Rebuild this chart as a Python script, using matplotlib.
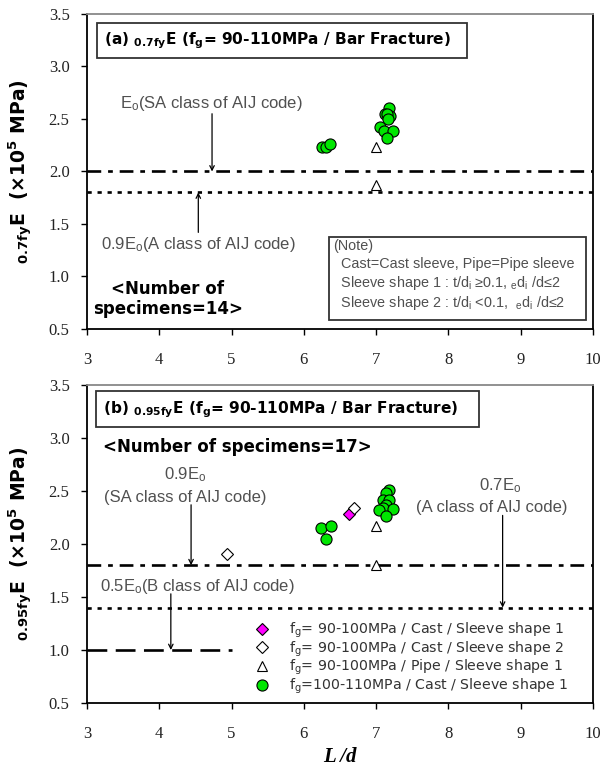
import matplotlib
matplotlib.use("Agg")
import matplotlib.pyplot as plt
from matplotlib.patches import Rectangle

plt.rcParams['mathtext.default'] = 'regular'
plt.rcParams['font.family'] = ['Liberation Sans', 'DejaVu Sans']

# ---------------- data ----------------
x_ticks = [3, 4, 5, 6, 7, 8, 9, 10]
y_ticks = [0.5, 1.0, 1.5, 2.0, 2.5, 3.0, 3.5]

# panel (a)
a_circle_x = [6.25, 6.31, 6.36, 7.18, 7.12, 7.19, 7.15, 7.17, 7.05, 7.11, 7.23, 7.15]
a_circle_y = [2.23, 2.23, 2.26, 2.60, 2.55, 2.53, 2.545, 2.50, 2.42, 2.39, 2.39, 2.32]
a_tri_x = [7.0, 7.0]
a_tri_y = [2.23, 1.87]
a_line_E0 = 2.0
a_line_09E0 = 1.8

# panel (b)
b_mag_x = [6.63]
b_mag_y = [2.28]
b_wdia_x = [4.94, 6.70]
b_wdia_y = [1.91, 2.34]
b_tri_x = [7.0, 7.0]
b_tri_y = [2.17, 1.80]
b_circle_x = [6.24, 6.37, 6.30, 7.18, 7.14, 7.09, 7.18, 7.14, 7.09, 7.04, 7.23, 7.14]
b_circle_y = [2.15, 2.17, 2.05, 2.51, 2.48, 2.42, 2.415, 2.37, 2.34, 2.32, 2.33, 2.26]
b_line_09E0 = 1.8
b_line_07E0 = 1.4
b_line_05E0 = 1.0
b_line_05E0_xmax = 5.0

legend_labels = ["f$_g$= 90-100MPa / Cast / Sleeve shape 1",
                 "f$_g$= 90-100MPa / Cast / Sleeve shape 2",
                 "f$_g$= 90-100MPa / Pipe / Sleeve shape 1",
                 "f$_g$=100-110MPa / Cast / Sleeve shape 1"]

GREEN = '#00e600'
MAG = '#ff00ff'
GRAY = '#505050'

dashdot = (0, (5.2, 2.6, 1.8, 2.6))
dotted = (0, (1.6, 2.2))
dashed = (0, (7.5, 3.2))

fig = plt.figure(figsize=(6.10, 7.69), dpi=100)
ax1 = fig.add_axes([0.1426, 0.5722, 0.8295, 0.4096])
ax2 = fig.add_axes([0.1426, 0.0858, 0.8295, 0.4135])


def style_axes(ax):
    ax.set_xlim(3, 10)
    ax.set_ylim(0.5, 3.5)
    ax.set_xticks(x_ticks)
    ax.set_yticks(y_ticks)
    ax.set_xticklabels([str(v) for v in x_ticks])
    ax.set_yticklabels(["%.1f" % v for v in y_ticks])
    for lab in ax.get_xticklabels() + ax.get_yticklabels():
        lab.set_fontfamily('Liberation Serif')
        lab.set_fontsize(12)
        lab.set_color('#222222')
    ax.tick_params(axis='x', direction='out', length=4.5, width=1.0, pad=12)
    ax.tick_params(axis='y', direction='out', length=4.5, width=1.0, pad=8)
    for sp in ax.spines.values():
        sp.set_linewidth(1.3)
    ax.spines['top'].set_color('#888888')


def arrow(ax, x, y0, y1):
    ax.annotate('', xy=(x, y1), xytext=(x, y0),
                arrowprops=dict(arrowstyle='->', lw=0.9, color='black',
                                mutation_scale=8, shrinkA=0, shrinkB=0))


mk = dict(linestyle='none', markeredgecolor='black', markeredgewidth=0.8)

# ---------------- panel (a) ----------------
style_axes(ax1)
ax1.axhline(a_line_E0, color='black', lw=1.9, linestyle=dashdot)
ax1.axhline(a_line_09E0, color='black', lw=1.9, linestyle=dotted)
ax1.plot(a_circle_x, a_circle_y, marker='o', markersize=8, markerfacecolor=GREEN, **mk)
ax1.plot(a_tri_x, a_tri_y, marker='^', markersize=6.5, markerfacecolor='white', **mk)

ax1.add_patch(Rectangle((3.14, 3.08), 5.12, 0.33, facecolor='white', edgecolor='#333333', lw=1.3))
ax1.text(3.24, 3.245, "(a) ${}_{0.7fy}$E (f$_g$= 90-110MPa / Bar Fracture)",
         fontfamily='DejaVu Sans', fontweight='bold', fontsize=11.1, va='center', ha='left')
ax1.text(3.45, 2.65, "E$_o$(SA class of AIJ code)", fontsize=12, color=GRAY, va='center')
arrow(ax1, 4.73, 2.55, a_line_E0)
ax1.text(3.19, 1.30, "0.9E$_o$(A class of AIJ code)", fontsize=12, color=GRAY, va='center')
arrow(ax1, 4.54, 1.42, a_line_09E0)
ax1.text(4.12, 0.785, "<Number of\nspecimens=14>", fontfamily='DejaVu Sans', fontweight='bold',
         fontsize=12, ha='center', va='center', linespacing=1.2)

ax1.add_patch(Rectangle((6.35, 0.585), 3.55, 0.795, facecolor='white', edgecolor='#333333', lw=1.3))
note_lines = ["(Note)",
              "  Cast=Cast sleeve, Pipe=Pipe sleeve",
              "  Sleeve shape 1 : t/d$_i$ ≥0.1, $_e$d$_i$ /d≤2",
              "  Sleeve shape 2 : t/d$_i$ <0.1,  $_e$d$_i$ /d≤2"]
note_y = [1.29, 1.115, 0.935, 0.745]
for s, yy in zip(note_lines, note_y):
    ax1.text(6.40, yy, s, fontsize=10.4, color=GRAY, va='center', ha='left')

ax1.set_ylabel("${}_{0.7fy}$E  (×10$^5$ MPa)", fontfamily='DejaVu Sans', fontweight='bold',
               fontsize=13.5, labelpad=10)

# ---------------- panel (b) ----------------
style_axes(ax2)
ax2.axhline(b_line_09E0, color='black', lw=1.9, linestyle=dashdot)
ax2.axhline(b_line_07E0, color='black', lw=1.9, linestyle=dotted)
ax2.plot([3, b_line_05E0_xmax], [b_line_05E0, b_line_05E0], color='black', lw=1.9, linestyle=dashed)

h1, = ax2.plot(b_mag_x, b_mag_y, marker='D', markersize=6, markerfacecolor=MAG, **mk)
h2, = ax2.plot(b_wdia_x, b_wdia_y, marker='D', markersize=6, markerfacecolor='white', **mk)
h3, = ax2.plot(b_tri_x, b_tri_y, marker='^', markersize=6.5, markerfacecolor='white', **mk)
h4, = ax2.plot(b_circle_x, b_circle_y, marker='o', markersize=8, markerfacecolor=GREEN, **mk)

ax2.add_patch(Rectangle((3.12, 3.10), 5.31, 0.34, facecolor='white', edgecolor='#333333', lw=1.3))
ax2.text(3.22, 3.27, "(b) ${}_{0.95fy}$E (f$_g$= 90-110MPa / Bar Fracture)",
         fontfamily='DejaVu Sans', fontweight='bold', fontsize=11.1, va='center', ha='left')
ax2.text(3.22, 2.92, "<Number of specimens=17>", fontfamily='DejaVu Sans', fontweight='bold',
         fontsize=12, va='center', ha='left')

ax2.text(4.36, 2.65, "0.9E$_o$", fontsize=12, color=GRAY, va='center', ha='center')
ax2.text(4.36, 2.44, "(SA class of AIJ code)", fontsize=12, color=GRAY, va='center', ha='center')
arrow(ax2, 4.44, 2.37, b_line_09E0)
ax2.text(8.72, 2.55, "0.7E$_o$", fontsize=12, color=GRAY, va='center', ha='center')
ax2.text(8.60, 2.345, "(A class of AIJ code)", fontsize=12, color=GRAY, va='center', ha='center')
arrow(ax2, 8.75, 2.27, b_line_07E0)
ax2.text(3.18, 1.60, "0.5E$_o$(B class of AIJ code)", fontsize=12, color=GRAY, va='center')
arrow(ax2, 4.16, 1.53, b_line_05E0)

leg = ax2.legend([h1, h2, h3, h4], legend_labels, loc='lower left',
                 bbox_to_anchor=(0.33, 0.022), frameon=False,
                 prop={'family': 'DejaVu Sans', 'size': 10.2},
                 handletextpad=1.3, labelspacing=-0.05, handlelength=1.2,
                 borderaxespad=0, borderpad=0)
for t in leg.get_texts():
    t.set_color('#333333')

ax2.set_ylabel("${}_{0.95fy}$E  (×10$^5$ MPa)", fontfamily='DejaVu Sans', fontweight='bold',
               fontsize=13.5, labelpad=10)
ax2.set_xlabel("L /d", fontfamily='Liberation Serif', fontweight='bold', fontstyle='italic',
               fontsize=15, labelpad=4)

fig.savefig("out.png", dpi=100)
